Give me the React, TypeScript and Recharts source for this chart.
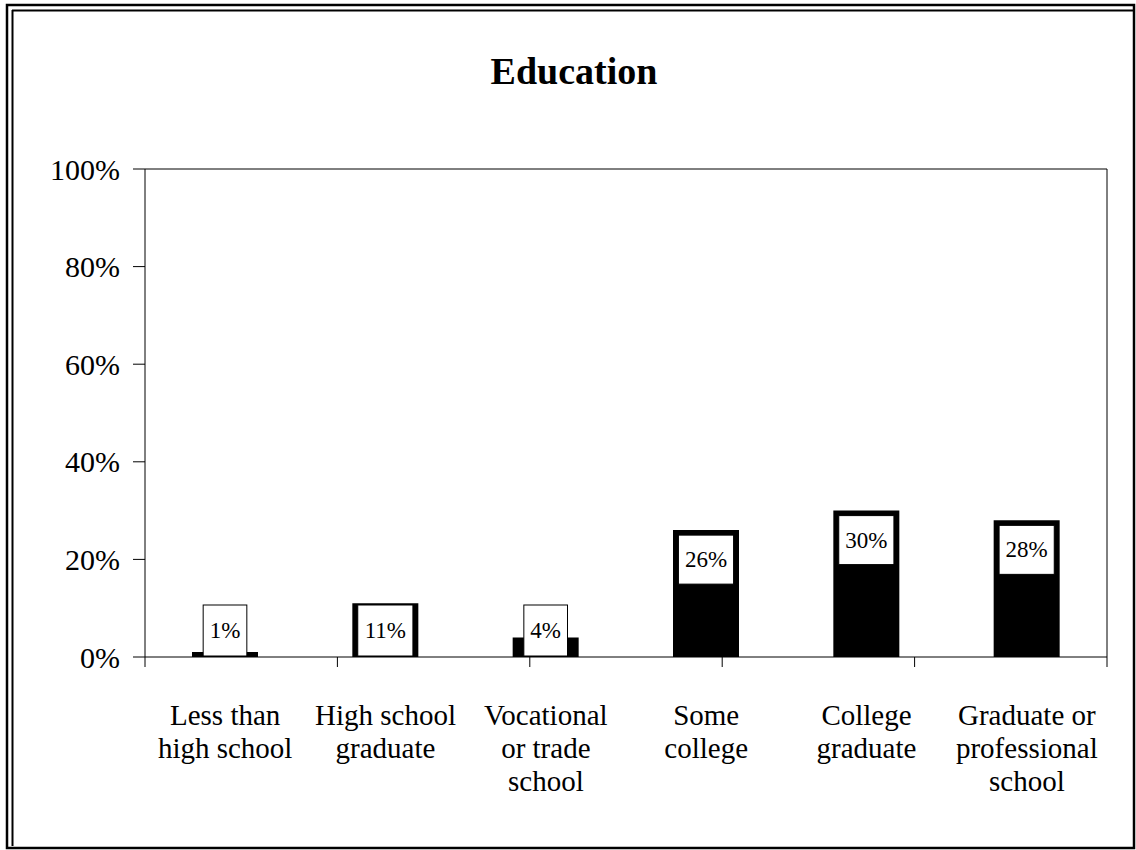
import { BarChart, Bar, XAxis, YAxis, LabelList, ReferenceLine } from 'recharts';

// categories and shares
const categories = [
  'Less than\nhigh school',
  'High school\ngraduate',
  'Vocational\nor trade\nschool',
  'Some\ncollege',
  'College\ngraduate',
  'Graduate or\nprofessional\nschool',
];
const shares = [0.01, 0.11, 0.04, 0.26, 0.3, 0.28];
const yTicks = [0, 0.2, 0.4, 0.6, 0.8, 1];
const boundaryTicks = [0, 1, 2, 3, 4, 5, 6];

const data = categories.map((name, i) => ({ name, value: shares[i] }));

const FONT = '"Liberation Serif", "Times New Roman", serif';
const pct = (v: number) => `${Math.round(v * 100)}%`;

// multi-line category label
function CategoryTick(props: any) {
  const { x, y, payload } = props;
  const lines = String(payload.value).split('\n');
  return (
    <text x={x} y={y} textAnchor="middle" fontFamily={FONT} fontSize={29} fill="#000">
      {lines.map((line, i) => (
        <tspan key={i} x={x} y={y + 67 + i * 33}>
          {line}
        </tspan>
      ))}
    </text>
  );
}

// white boxed percentage label sitting inside the top of the bar
function BoxLabel(props: any) {
  const { x, y, width, height, value } = props;
  const fs = 23;
  const text = pct(value);
  const digits = text.length - 1;
  const textW = digits * 0.5 * fs + 0.833 * fs;
  const boxW = textW + 13;
  const base = y + height;
  let top = y + 5;
  let h = 49;
  if (top + h > base - 2) {
    top = base - 52;
    h = 51;
  }
  const cx = x + width / 2;
  return (
    <g>
      <rect x={cx - boxW / 2} y={top} width={boxW} height={h} fill="#fff" stroke="#000" strokeWidth={1} />
      <text x={cx} y={top + h / 2} textAnchor="middle" dominantBaseline="central" fontFamily={FONT} fontSize={fs} fill="#000">
        {text}
      </text>
    </g>
  );
}

export default function App() {
  return (
    <div style={{ position: 'absolute', left: 0, top: 0, width: 1136, height: 850, background: '#fff' }}>
      <BarChart
        width={1136}
        height={850}
        data={data}
        margin={{ top: 169, right: 28, left: 0, bottom: 0 }}
        barSize={66}
      >
        <XAxis
          xAxisId="a-grid"
          type="number"
          domain={[0, 6]}
          ticks={boundaryTicks}
          height={1}
          axisLine={{ stroke: '#000' }}
          tickLine={{ stroke: '#000' }}
          tickSize={10}
          tickFormatter={() => ''}
        />
        <XAxis
          xAxisId="b-cat"
          dataKey="name"
          height={192}
          axisLine={false}
          tickLine={false}
          tickSize={0}
          tickMargin={0}
          tick={<CategoryTick />}
          interval={0}
        />
        <YAxis
          width={145}
          domain={[0, 1]}
          ticks={yTicks}
          tickFormatter={pct}
          axisLine={{ stroke: '#000' }}
          tickLine={{ stroke: '#000' }}
          tickSize={12}
          tickMargin={13}
          tick={{ fontFamily: FONT, fontSize: 30, fill: '#000' }}
        />
        <YAxis
          yAxisId="right"
          orientation="right"
          width={1}
          domain={[0, 1]}
          axisLine={{ stroke: '#000' }}
          tick={false}
          tickLine={false}
        />
        <ReferenceLine y={1} stroke="#000" />
        <Bar dataKey="value" xAxisId="b-cat" fill="#000" isAnimationActive={false}>
          <LabelList dataKey="value" content={<BoxLabel />} />
        </Bar>
      </BarChart>
      <svg width={1136} height={850} style={{ position: 'absolute', left: 0, top: 0, pointerEvents: 'none' }}>
        <text x={574} y={84} textAnchor="middle" fontFamily={FONT} fontWeight="bold" fontSize={38} fill="#000">
          Education
        </text>
        <rect x={7} y={5} width={1127} height={843} fill="none" stroke="#000" strokeWidth={2.5} />
        <line x1={12.5} y1={10} x2={12.5} y2={846} stroke="#000" strokeWidth={2} />
        <line x1={12} y1={10.5} x2={1134} y2={10.5} stroke="#000" strokeWidth={2} />
      </svg>
    </div>
  );
}
